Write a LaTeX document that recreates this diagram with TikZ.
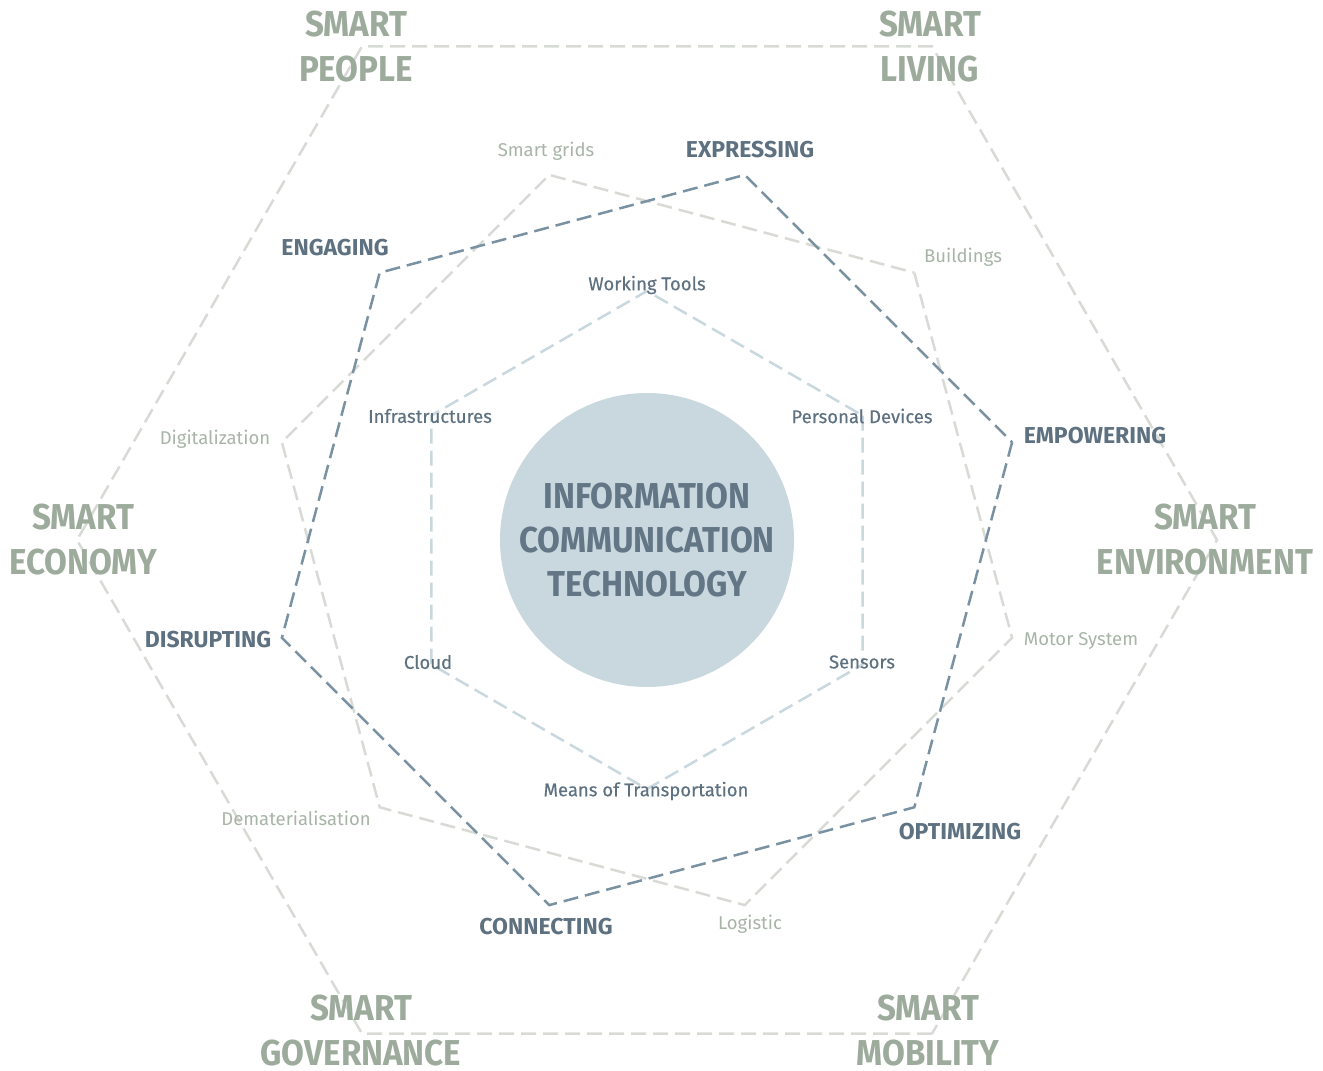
\documentclass[tikz,border=0pt]{standalone}
\usepackage{fontspec}
\setmainfont{Fira Sans}
\newfontfamily\dincond[FakeStretch=0.92]{Fira Sans}
\newfontfamily\dinmedium[FakeBold=0.4]{Fira Sans}
\definecolor{sage}{HTML}{9DAB9C}
\definecolor{sagelight}{HTML}{A8B4A7}
\definecolor{hexgrey}{HTML}{D8DBD5}
\definecolor{slate}{HTML}{5E7181}
\definecolor{slateline}{HTML}{7A91A2}
\definecolor{mist}{HTML}{C9D7DF}

\tikzset{
  smart/.style={font=\dincond\bfseries\fontsize{36}{45}\selectfont, text=sage, align=center, inner sep=0.5pt},
  verb/.style={font=\bfseries\fontsize{23}{27}\selectfont, text=slate},
  sector/.style={font=\fontsize{18.5}{22}\selectfont, text=sagelight},
  device/.style={font=\dinmedium\fontsize{18.5}{22}\selectfont, text=slate},
  hexline/.style={line width=2.5pt, dash pattern=on 15pt off 7pt}
}

\begin{document}
\begin{tikzpicture}[x=1pt,y=-1pt]
			\useasboundingbox (0,0) rectangle (1323,1071);
			\coordinate (mid) at (647,540);
			
			% corners of the four rings
			\foreach \k in {1,...,6} {
				\coordinate (o\k) at ([shift={(60*\k:570)}]mid);
				\coordinate (s\k) at ([shift={(60*\k-105:378)}]mid);
				\coordinate (v\k) at ([shift={(60*\k-75:378)}]mid);
				\coordinate (d\k) at ([shift={(60*\k-90:249)}]mid);
			}
			
			\draw[hexline, hexgrey] (o1) \foreach \k in {2,...,6}{ -- (o\k)} -- cycle;
			\draw[hexline, hexgrey] (s1) \foreach \k in {2,...,6}{ -- (s\k)} -- cycle;
			\draw[hexline, slateline] (v1) \foreach \k in {2,...,6}{ -- (v\k)} -- cycle;
			\draw[hexline, mist] (d1) \foreach \k in {2,...,6}{ -- (d\k)} -- cycle;
			
			\node[circle, fill=mist, minimum size=294pt, inner sep=0pt, align=center,
				font=\dincond\bfseries\fontsize{36}{44}\selectfont, text=slate!95!mist] (ict) at (mid)
				{INFORMATION\\COMMUNICATION\\TECHNOLOGY};
			
			% outer ring
			\node[smart] (people) at (356,47) {SMART\\PEOPLE};
			\node[smart] (living) at (930,47) {SMART\\LIVING};
			\node[smart] (economy) at (83,540) {SMART\\ECONOMY};
			\node[smart] (environment) at (1205,540) {SMART\\ENVIRONMENT};
			\node[smart, text depth=0pt] (governance) at (361,1030) {SMART\\GOVERNANCE};
			\node[smart, text depth=0pt] (mobility) at (928,1030) {SMART\\MOBILITY};
			
			% second ring
			\node[sector] (grids) at (546,151) {Smart grids};
			\node[sector] (buildings) at (963,257) {Buildings};
			\node[sector] (motor) at (1081,641) {Motor System};
			\node[sector] (logistic) at (750,924) {Logistic};
			\node[sector] (demat) at (296,818) {Dematerialisation};
			\node[sector] (digital) at (215,439) {Digitalization};
			
			% third ring
			\node[verb] (expressing) at (750,150) {EXPRESSING};
			\node[verb] (empowering) at (1095,436) {EMPOWERING};
			\node[verb] (optimizing) at (960,832) {OPTIMIZING};
			\node[verb] (connecting) at (546,927) {CONNECTING};
			\node[verb] (disrupting) at (208,640) {DISRUPTING};
			\node[verb] (engaging) at (335,248) {ENGAGING};
			
			% inner ring
			\node[device] (tools) at (647,285) {Working Tools};
			\node[device] (personal) at (862,416) {Personal Devices};
			\node[device] (sensors) at (862,662) {Sensors};
			\node[device] (transport) at (646,791) {Means of Transportation};
			\node[device] (cloud) at (428,662) {Cloud};
			\node[device] (infra) at (430,416) {Infrastructures};
		\end{tikzpicture}
\end{document}
